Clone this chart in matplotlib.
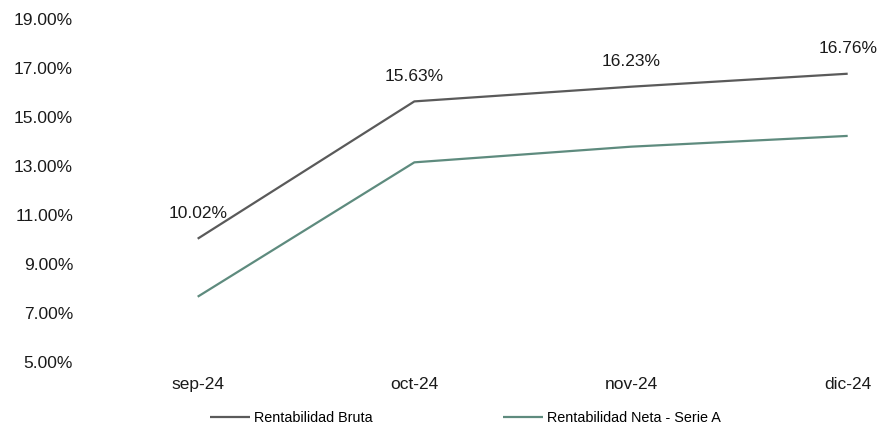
import matplotlib
matplotlib.use("Agg")
import matplotlib.pyplot as plt
from matplotlib.ticker import FuncFormatter

categories = ["sep-24", "oct-24", "nov-24", "dic-24"]
bruta = [10.02, 15.63, 16.23, 16.76]
neta = [7.65, 13.14, 13.78, 14.22]
yticks = [5, 7, 9, 11, 13, 15, 17, 19]

plt.rcParams['font.family'] = ['Liberation Sans', 'DejaVu Sans']

W, H = 882, 429
fig = plt.figure(figsize=(W / 100, H / 100), dpi=100)
ax = fig.add_axes([85 / W, 67.4 / H, (870 - 85) / W, 342.7 / H])

x = list(range(len(categories)))
c_bruta = "#5a5a5a"
c_neta = "#5e8b7e"
ax.plot(x, bruta, color=c_bruta, lw=1.6, label="Rentabilidad Bruta", solid_capstyle="butt")
ax.plot(x, neta, color=c_neta, lw=1.6, label="Rentabilidad Neta - Serie A", solid_capstyle="butt")

for xi, v in zip(x, bruta):
    ax.annotate(f"{v:.2f}%", (xi, v), xytext=(0, 18), textcoords="offset points",
                ha="center", va="center", fontsize=12.5, color="#1a1a1a")

ax.set_xlim(-0.520, 3.103)
ax.set_ylim(5, 19)
ax.set_yticks(yticks)
ax.yaxis.set_major_formatter(FuncFormatter(lambda v, p: f"{v:.2f}%"))
ax.set_xticks(x)
ax.set_xticklabels(categories)
ax.tick_params(axis="both", length=0, labelsize=12.5, colors="#1a1a1a")
ax.tick_params(axis="y", pad=8.6)
ax.tick_params(axis="x", pad=11)
for s in ax.spines.values():
    s.set_visible(False)

fig.legend(loc="center", bbox_to_anchor=(465.5 / W, 11 / H), ncol=2, frameon=False,
           fontsize=10.4, handlelength=2.75, handletextpad=0.3, columnspacing=9.0)

fig.savefig("out.png", dpi=100, facecolor="white")
